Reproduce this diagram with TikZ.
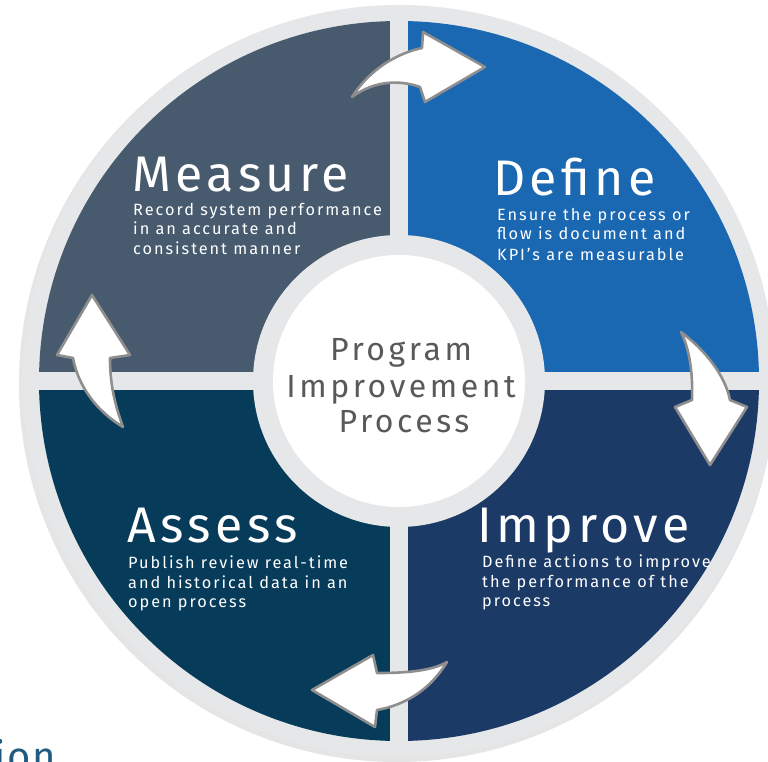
\documentclass[tikz,border=0pt]{standalone}
\usepackage{fontspec}
\setmainfont{Fira Sans}
\newfontfamily\titlefont[LetterSpace=9]{Fira Sans}
\newfontfamily\bodyfont[LetterSpace=12]{Fira Sans}
\newfontfamily\centerfont[LetterSpace=11]{Fira Sans}
\definecolor{measurec}{HTML}{475A6E}
\definecolor{definec}{HTML}{1A67B2}
\definecolor{improvec}{HTML}{1C3A66}
\definecolor{assessc}{HTML}{073B5A}
\definecolor{ringc}{HTML}{E6E7E8}
\definecolor{arrowc}{HTML}{8E8E8E}
\definecolor{centertextc}{HTML}{58595B}
\definecolor{ionc}{HTML}{1F5A80}
\tikzset{
  titletext/.style={anchor=base west, inner sep=0pt, text depth=0pt, text=white, font=\titlefont\fontsize{50}{50}\selectfont},
  bodytext/.style={anchor=base west, inner sep=0pt, text=white, font=\bodyfont\fontsize{16.3}{16.3}\selectfont},
  centertext/.style={anchor=base, inner sep=0pt, text=centertextc, font=\centerfont\fontsize{32}{32}\selectfont},
  cyclearrow/.style={fill=white, draw=arrowc, line width=2.6pt, line join=round}
}
\begin{document}
\begin{tikzpicture}[x=1pt,y=-1pt]
\useasboundingbox (0,0) rectangle (768,762);
\fill[white] (0,0) rectangle (768,762);
\coordinate (c) at (399,381);
% soft shadow of outer ring
\fill[black!10] (397,384) circle[radius=378pt];
\fill[ringc] (c) circle[radius=376pt];
\begin{scope}
  \clip (c) circle[radius=360pt];
  \fill[measurec] (0,0) rectangle (399,381);
  \fill[definec] (399,0) rectangle (800,381);
  \fill[assessc] (0,381) rectangle (399,800);
  \fill[improvec] (399,381) rectangle (800,800);
\end{scope}
\begin{scope}
  \clip (c) circle[radius=370pt];
  \fill[ringc] (390,0) rectangle (408,800);
  \fill[ringc] (0,372) rectangle (800,390);
\end{scope}
% centre circle
\fill[ringc] (c) circle[radius=146pt];
\fill[white] (c) circle[radius=126pt];

% arrows
\draw[cyclearrow] (352,97) .. controls (366,75) and (390,55) .. (422,48)
  -- (423,32) -- (485,67) -- (425,102) -- (420,87)
  .. controls (400,80) and (375,80) .. cycle;
\draw[cyclearrow] (681,332) .. controls (705,350) and (725,375) .. (730,400)
  -- (747,407) -- (710,465) -- (675,407) -- (692,400)
  .. controls (693,375) and (690,350) .. cycle;
\draw[cyclearrow] (447,662) .. controls (430,690) and (405,705) .. (377,710)
  -- (375,727) -- (312,690) -- (373,655) -- (377,673)
  .. controls (400,673) and (430,672) .. cycle;
\draw[cyclearrow] (123,427) .. controls (95,410) and (78,385) .. (73,358)
  -- (57,355) -- (92,295) -- (130,355) -- (110,358)
  .. controls (110,385) and (115,405) .. cycle;

% Measure
\node[titletext] (mt) at (132,192) {Measure};
\node[bodytext] (m1) at (133,215) {Record system performance};
\node[bodytext] (m2) at (133,234.5) {in an accurate and};
\node[bodytext] (m3) at (133,254) {consistent manner};
% Define
\node[titletext] (dt) at (493,196) {Define};
\node[bodytext] (d1) at (497,220) {Ensure the process or};
\node[bodytext] (d2) at (497,240) {flow is document and};
\node[bodytext] (d3) at (497,260) {KPI’s are measurable};
% Assess
\node[titletext] (at) at (127,542) {Assess};
\node[bodytext] (a1) at (128,568) {Publish review real-time};
\node[bodytext] (a2) at (128,588) {and historical data in an};
\node[bodytext] (a3) at (128,607) {open process};
% Improve
\node[titletext] (it) at (477,542) {Improve};
\node[bodytext] (i1) at (482,567) {Define actions to improve};
\node[bodytext] (i2) at (482,587) {the performance of the};
\node[bodytext] (i3) at (482,606) {process};
% centre
\node[centertext] (c1) at (401,360) {Program};
\node[centertext] (c2) at (401,397) {Improvement};
\node[centertext] (c3) at (404,432) {Process};
% cut-off heading
\node[anchor=base west, inner sep=0pt, text=ionc, font=\fontsize{40}{40}\selectfont\addfontfeatures{LetterSpace=4}] (ion) at (-6,770) {ion};
\end{tikzpicture}
\end{document}
